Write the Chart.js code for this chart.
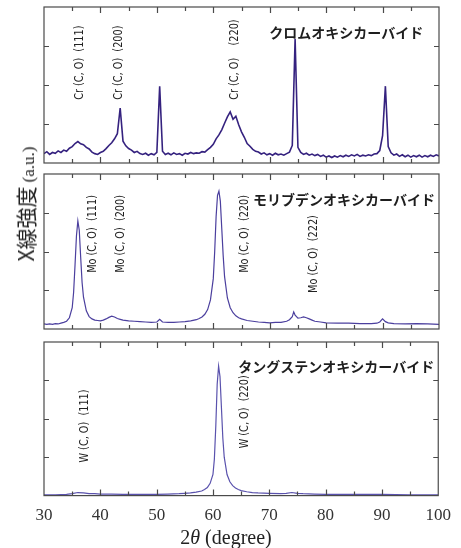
<!DOCTYPE html>
<html>
<head>
<meta charset="utf-8">
<script src="https://cdn.jsdelivr.net/npm/chart.js@4.4.0/dist/chart.umd.min.js"></script>
<style>
  body { margin: 0; background: #fff; width: 461px; height: 548px; position: relative; overflow: hidden; }
  canvas { position: absolute; left: 0; }
  #ytitle { position: absolute; left: 25px; top: 204px; transform: translate(-50%, -50%) rotate(-90deg); white-space: nowrap; color: #222; }
  #ytitle .jp { font: 21px "Noto Sans CJK JP", sans-serif; }
  #ytitle .au { font: 17px "Liberation Serif", serif; }
  #xtitle { position: absolute; left: 226px; top: 537px; transform: translate(-50%, -50%); white-space: nowrap; color: #222; font: 20px "Liberation Serif", serif; }
</style>
</head>
<body>
<canvas id="crChart" width="461" height="170" style="top:0px"></canvas>
<canvas id="moChart" width="461" height="168" style="top:168px"></canvas>
<canvas id="wChart" width="461" height="200" style="top:336px"></canvas>
<div id="ytitle"><span class="jp">X線強度</span> <span class="au">(a.u.)</span></div>
<div id="xtitle">2<i>θ</i> (degree)</div>
<script>
// x axis
const xTickLabels = [30, 40, 50, 60, 70, 80, 90, 100];
const xTickMarks = [35, 40, 45, 50, 55, 60, 65, 70, 75, 80, 85, 90, 95];
const yTickMarks = [1, 2, 3];

// chromium oxycarbide scan [2theta, intensity]
const crScan = [
  [30,0.24],[30.5,0.29],[31,0.22],[31.5,0.27],[32,0.25],[32.5,0.31],[33,0.27],[33.5,0.33],[34,0.30],[34.5,0.38],
  [35,0.42],[35.5,0.50],[36,0.55],[36.5,0.49],[37,0.47],[37.5,0.40],[38,0.36],[38.5,0.28],[39,0.24],[39.5,0.22],
  [40,0.27],[40.5,0.30],[41,0.37],[41.5,0.45],[42,0.52],[42.5,0.62],[43,0.75],[43.5,1.41],[44,0.56],[44.5,0.44],
  [45,0.37],[45.5,0.33],[46,0.27],[46.5,0.30],[47,0.24],[47.5,0.22],[48,0.25],[48.5,0.20],[49,0.24],[49.5,0.21],
  [50,0.27],[50.5,1.97],[51,0.30],[51.5,0.22],[52,0.25],[52.5,0.21],[53,0.26],[53.5,0.22],[54,0.24],[54.5,0.20],
  [55,0.25],[55.5,0.23],[56,0.27],[56.5,0.24],[57,0.26],[57.5,0.25],[58,0.29],[58.5,0.28],[59,0.34],[59.5,0.40],
  [60,0.48],[60.5,0.62],[61,0.72],[61.5,0.85],[62,1.02],[62.5,1.18],[63,1.31],[63.5,1.12],[64,1.20],[64.5,0.98],
  [65,0.80],[65.5,0.66],[66,0.50],[66.5,0.43],[67,0.35],[67.5,0.30],[68,0.28],[68.5,0.23],[69,0.26],[69.5,0.21],
  [70,0.24],[70.5,0.20],[71,0.25],[71.5,0.21],[72,0.23],[72.5,0.20],[73,0.24],[73.5,0.28],[74,0.45],[74.5,3.18],
  [75,0.40],[75.5,0.27],[76,0.22],[76.5,0.25],[77,0.20],[77.5,0.23],[78,0.19],[78.5,0.22],[79,0.17],[79.5,0.20],
  [80,0.15],[80.5,0.18],[81,0.14],[81.5,0.18],[82,0.15],[82.5,0.19],[83,0.16],[83.5,0.20],[84,0.17],[84.5,0.21],
  [85,0.18],[85.5,0.22],[86,0.17],[86.5,0.20],[87,0.18],[87.5,0.21],[88,0.19],[88.5,0.23],[89,0.24],[89.5,0.32],
  [90,0.70],[90.5,1.97],[91,0.42],[91.5,0.26],[92,0.20],[92.5,0.23],[93,0.17],[93.5,0.21],[94,0.16],[94.5,0.20],
  [95,0.15],[95.5,0.19],[96,0.16],[96.5,0.20],[97,0.15],[97.5,0.19],[98,0.16],[98.5,0.20],[99,0.17],[99.5,0.21],
  [100,0.18]
];

// molybdenum oxycarbide scan
const moScan = [
  [30,0.13],[30.5,0.12],[31,0.13],[31.5,0.12],[32,0.14],[32.5,0.13],[33,0.15],[33.5,0.17],[34,0.20],[34.5,0.29],
  [35,0.55],[35.25,0.95],[35.5,1.65],[35.75,2.40],[36,2.79],[36.25,2.55],[36.5,1.85],[36.75,1.20],[37,0.82],[37.5,0.47],
  [38,0.32],[38.5,0.26],[39,0.23],[39.5,0.22],[40,0.21],[40.5,0.23],[41,0.26],[41.5,0.30],[42,0.33],[42.5,0.31],
  [43,0.27],[43.5,0.25],[44,0.23],[45,0.21],[46,0.20],[47,0.19],[48,0.18],[49,0.17],[50,0.18],[50.5,0.25],
  [51,0.18],[52,0.17],[53,0.17],[54,0.18],[55,0.19],[56,0.21],[57,0.24],[57.5,0.27],[58,0.31],[58.5,0.38],
  [59,0.50],[59.5,0.75],[60,1.30],[60.25,2.00],[60.5,2.90],[60.75,3.45],[61,3.56],[61.25,3.30],[61.5,2.60],[61.75,1.90],
  [62,1.35],[62.5,0.80],[63,0.55],[63.5,0.42],[64,0.34],[64.5,0.29],[65,0.26],[66,0.22],[67,0.20],[68,0.18],
  [69,0.17],[70,0.16],[71,0.17],[72,0.17],[73,0.20],[73.5,0.24],[74,0.32],[74.25,0.44],[74.5,0.36],[75,0.28],
  [75.5,0.29],[76,0.31],[76.5,0.29],[77,0.26],[77.5,0.23],[78,0.20],[79,0.18],[80,0.16],[82,0.15],[84,0.15],
  [86,0.14],[88,0.14],[89,0.15],[89.5,0.18],[90,0.26],[90.5,0.19],[91,0.16],[92,0.14],[94,0.13],[96,0.14],
  [98,0.13],[100,0.12]
];

// tungsten oxycarbide scan
const wScan = [
  [30,0.02],[32,0.02],[34,0.03],[35,0.05],[36,0.08],[37,0.07],[38,0.05],[39,0.05],[40,0.04],[42,0.04],
  [44,0.03],[46,0.03],[48,0.03],[50,0.03],[52,0.04],[54,0.05],[55,0.06],[56,0.07],[57,0.09],[58,0.12],
  [58.5,0.16],[59,0.21],[59.5,0.32],[60,0.55],[60.25,0.95],[60.5,1.80],[60.75,2.90],[61,3.37],[61.25,3.10],[61.5,2.30],
  [61.75,1.50],[62,1.00],[62.5,0.55],[63,0.36],[63.5,0.26],[64,0.20],[64.5,0.16],[65,0.13],[66,0.10],[67,0.08],
  [68,0.07],[70,0.06],[72,0.05],[73,0.06],[74,0.08],[75,0.06],[76,0.05],[78,0.04],[80,0.03],[85,0.03],
  [90,0.03],[95,0.02],[100,0.02]
];

const framePlugin = {
  id: 'frame',
  afterDatasetsDraw(chart, args, opts) {
    const { ctx, chartArea: a, scales: { x, y } } = chart;
    ctx.save();
    ctx.strokeStyle = '#4a4a4a';
    ctx.lineWidth = 1.2;
    ctx.strokeRect(a.left, a.top, a.right - a.left, a.bottom - a.top);
    ctx.beginPath();
    xTickMarks.forEach(v => {
      const px = Math.round(x.getPixelForValue(v)) + 0.5;
      const len = v % 10 === 0 ? 6 : 4;
      ctx.moveTo(px, a.top); ctx.lineTo(px, a.top + len);
      ctx.moveTo(px, a.bottom); ctx.lineTo(px, a.bottom - len);
    });
    yTickMarks.forEach(v => {
      const py = Math.round(y.getPixelForValue(v)) + 0.5;
      ctx.moveTo(a.left, py); ctx.lineTo(a.left + 5, py);
      ctx.moveTo(a.right, py); ctx.lineTo(a.right - 5, py);
    });
    ctx.stroke();

    // peak labels, rotated and condensed
    ctx.fillStyle = '#222';
    ctx.font = '13px "Liberation Sans Narrow", "DejaVu Sans Condensed", sans-serif';
    ctx.textAlign = 'left';
    ctx.textBaseline = 'middle';
    opts.peaks.forEach(p => {
      ctx.save();
      ctx.translate(x.getPixelForValue(p.x), y.getPixelForValue(p.y));
      ctx.rotate(-Math.PI / 2);
      ctx.scale(0.83, 1);
      ctx.fillText(p.text, 0, 0);
      ctx.restore();
    });

    // sample name
    ctx.fillStyle = '#1e1e1e';
    ctx.font = 'bold 14px "Noto Sans CJK JP", sans-serif';
    ctx.textAlign = 'right';
    ctx.fillText(opts.name, x.getPixelForValue(opts.nameX), y.getPixelForValue(opts.nameY));
    ctx.restore();
  }
};

function makeChart(id, scan, color, lw, showX, frame, pad) {
  new Chart(document.getElementById(id), {
    type: 'line',
    data: {
      datasets: [{
        data: scan.map(p => ({ x: p[0], y: p[1] })),
        borderColor: color,
        borderWidth: lw,
        pointRadius: 0,
        tension: 0,
        fill: false
      }]
    },
    options: {
      responsive: false,
      animation: false,
      layout: { padding: pad },
      plugins: { legend: { display: false }, tooltip: { enabled: false }, frame: frame },
      scales: {
        x: {
          type: 'linear', min: 30, max: 100,
          display: showX,
          grid: { display: false, drawTicks: false },
          border: { display: false },
          afterBuildTicks: s => { s.ticks = xTickLabels.map(v => ({ value: v })); },
          ticks: { padding: 10, color: '#333', font: { family: '"Liberation Serif", serif', size: 17 } }
        },
        y: { min: 0, max: 4, display: false }
      }
    },
    plugins: [framePlugin]
  });
}

makeChart('crChart', crScan, '#35227f', 1.6, false, {
  name: 'クロムオキシカーバイド', nameX: 97.2, nameY: 3.33,
  peaks: [
    { text: 'Cr (C, O)  (111)', x: 36.4, y: 1.62 },
    { text: 'Cr (C, O)  (200)', x: 43.3, y: 1.62 },
    { text: 'Cr (C, O)    (220)', x: 63.85, y: 1.62 }
  ]
}, { left: 44, right: 22, top: 7, bottom: 7 });

makeChart('moChart', moScan, '#4b3f9e', 1.2, false, {
  name: 'モリブデンオキシカーバイド', nameX: 99.3, nameY: 3.35,
  peaks: [
    { text: 'Mo (C, O)  (111)', x: 38.7, y: 1.45 },
    { text: 'Mo (C, O)  (200)', x: 43.65, y: 1.45 },
    { text: 'Mo (C, O)  (220)', x: 65.6, y: 1.45 },
    { text: 'Mo (C, O)  (222)', x: 77.7, y: 0.93 }
  ]
}, { left: 44, right: 22, top: 6, bottom: 7 });

makeChart('wChart', wScan, '#5a52ad', 1.2, true, {
  name: 'タングステンオキシカーバイド', nameX: 99.3, nameY: 3.35,
  peaks: [
    { text: 'W (C, O)  (111)', x: 37.3, y: 0.86 },
    { text: 'W (C, O)  (220)', x: 65.6, y: 1.23 }
  ]
}, { left: 44, right: 22, top: 6, bottom: 0 });
</script>
</body>
</html>
